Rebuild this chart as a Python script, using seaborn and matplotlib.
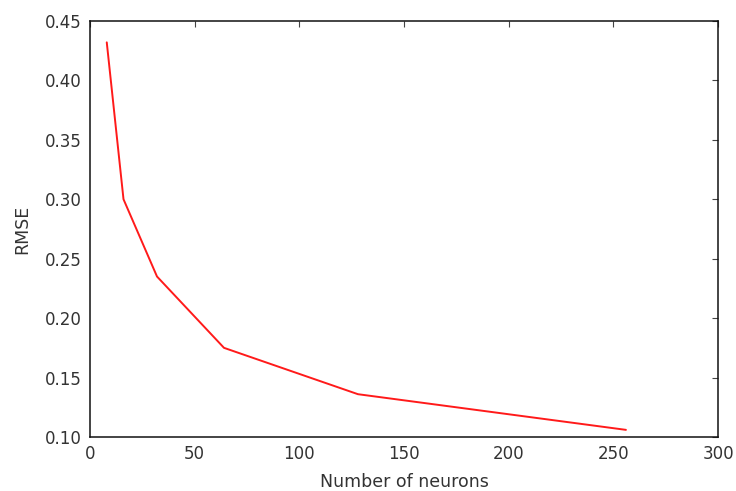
import matplotlib
matplotlib.use("Agg")
import matplotlib.pyplot as plt
import seaborn as sns
import pandas as pd

# Hidden-layer sizes and validation RMSE
neurons = [8, 16, 32, 64, 128, 256]
rmse = [0.432, 0.300, 0.235, 0.175, 0.136, 0.106]

x_ticks = [0, 50, 100, 150, 200, 250, 300]
y_ticks = [0.10, 0.15, 0.20, 0.25, 0.30, 0.35, 0.40, 0.45]

sns.set_style("white")
plt.rcParams["font.family"] = ["DejaVu Sans"]

df = pd.DataFrame({"Number of neurons": neurons, "RMSE": rmse})

fig = plt.figure(figsize=(7.36, 4.91), dpi=100)
ax = fig.add_axes([0.1223, 0.110, 0.8533, 0.8473])

sns.lineplot(data=df, x="Number of neurons", y="RMSE", color="#ff1a1a",
             linewidth=1.4, ax=ax)

ax.set_xlim(0, 300)
ax.set_ylim(0.10, 0.45)
ax.set_xticks(x_ticks)
ax.set_yticks(y_ticks)
ax.set_yticklabels([f"{v:.2f}" for v in y_ticks])
ax.tick_params(direction="in", length=4, width=0.8, top=True, right=True,
               labelsize=12, colors="#444444", labelcolor="#333333", pad=6)
for side in ax.spines.values():
    side.set_visible(True)
    side.set_color("#111111")
    side.set_linewidth(1.1)
ax.set_xlabel("Number of neurons", fontsize=12.5, color="#333333", labelpad=7)
ax.set_ylabel("RMSE", fontsize=12.5, color="#333333", labelpad=10)

fig.savefig("out.png", dpi=100)
